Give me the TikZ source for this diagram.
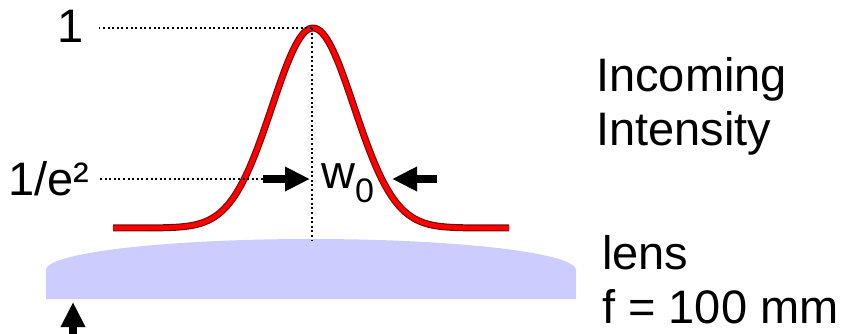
\documentclass[tikz,border=0pt]{standalone}
\usepackage{fontspec}
\setmainfont{Liberation Sans}
\usetikzlibrary{arrows.meta, calc}
\definecolor{beamred}{HTML}{FF0000}
\definecolor{beamedge}{HTML}{7A0A0A}
\definecolor{lensblue}{HTML}{CCCCFF}

\begin{document}
\begin{tikzpicture}[
  x=1pt, y=-1pt,
  lbl/.style={font=\fontsize{47pt}{54pt}\selectfont, text=black,
    inner sep=0pt, anchor=base west},
  guide/.style={black, line width=2pt, dash pattern=on 2pt off 2.6pt},
  fatarrow/.style={black, line width=8pt,
    -{Triangle[length=25pt, width=23pt]}},
]

% Frame
\useasboundingbox (0,0) rectangle (846,334);

% Lens
\fill[lensblue] (46,299) -- (46,270)
  -- plot[domain=180:0, samples=60, smooth] ({311+265*cos(\x)}, {270-31*sin(\x)})
  -- (576,299) -- cycle;
\coordinate (lenstop) at (312,240);

% Gaussian beam profile
\draw[beamedge, line width=7pt, line join=round]
  plot[domain=-200:196, samples=160] ({313+\x}, {228-200*exp(-0.5*(\x/41)^2)});
\draw[beamred, line width=4.6pt, line join=round]
  plot[domain=-200:196, samples=160] ({313+\x}, {228-200*exp(-0.5*(\x/41)^2)});
\coordinate (peak) at (312,28);

% Level labels
\node[lbl] (one) at (57,43) {1};
\node[lbl] (inve) at (8,195) {1/e²};
\node[lbl] (waist) at (321,188)
  {w\raisebox{-14pt}{\fontsize{34pt}{34pt}\selectfont 0}};

% Guide lines
\draw[guide] (peak) -- (peak -| one.east) [shorten >=15pt];
\draw[guide] (peak) -- (lenstop);
\coordinate (wl) at (263,179);
\coordinate (wlt) at (310,179);
\coordinate (wr) at (437,179);
\coordinate (wrt) at (392,179);
\draw[guide, shorten >=9pt] (wl) -- (wl -| inve.east);

% Waist arrows
\draw[fatarrow] (wl) -- (wlt);
\draw[fatarrow] (wr) -- (wrt);

% Focal point arrow
\coordinate (fbot) at (73,334);
\coordinate (ftip) at (73,302);
\draw[fatarrow] (fbot) -- (ftip);

% Right-hand captions
\node[lbl] (incoming) at (596,92) {Incoming};
\node[lbl] (intensity) at (596,146) {Intensity};
\node[lbl] (lens) at (602,269) {lens};
\node[lbl] (focal) at (602,323) {f = 100 mm};

\end{tikzpicture}
\end{document}
